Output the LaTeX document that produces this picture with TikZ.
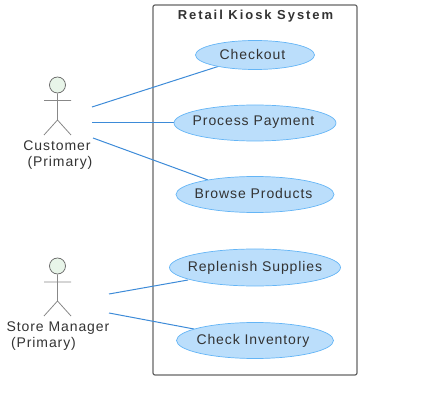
\documentclass[tikz,border=0pt]{standalone}
\usepackage{fontspec}
\setmainfont{Liberation Sans}
\newfontfamily\spacedfont[LetterSpace=6.5]{Liberation Sans}
\newfontfamily\titlefont[LetterSpace=15]{Liberation Sans}
\usetikzlibrary{shapes.geometric}
\definecolor{ink}{HTML}{333333}
\definecolor{boxline}{HTML}{666666}
\definecolor{stickline}{HTML}{888888}
\definecolor{ucfill}{HTML}{BBDEFB}
\definecolor{ucline}{HTML}{64B5F6}
\definecolor{link}{HTML}{3D8BD8}
\definecolor{headfill}{HTML}{E8F5E9}
\tikzset{x=1pt,y=-1pt,line width=.8pt,
  every node/.style={font=\spacedfont\fontsize{14}{16}\selectfont,text=ink},
  sysbox/.style={draw=boxline,line width=1.2pt,rounded corners=2pt},
  usecase/.style={ellipse,draw=ucline,fill=ucfill,inner sep=0pt,line width=.7pt},
  assoc/.style={draw=link,line width=1pt},
  stick/.style={draw=stickline,line width=.8pt},
  head/.style={circle,draw=boxline,fill=headfill,inner sep=0pt,minimum size=16pt,line width=.7pt}}
\begin{document}
\begin{tikzpicture}
\useasboundingbox (0,0) rectangle (445,401);
\draw[sysbox] (153,5) rectangle (357,375);
\node[font=\titlefont\fontsize{13}{15}\selectfont\bfseries] (title) at (255.5,16) {Retail Kiosk System};
% free ends of the associations, beside each actor
\coordinate (custA) at (92,107);\coordinate (custB) at (92,123);\coordinate (custC) at (93,138);
\coordinate (mgrA) at (109,294);\coordinate (mgrB) at (109,313);
\draw[assoc] (custA)--(218,66.5);
\draw[assoc] (custB)--(174,123);
\draw[assoc] (custC)--(208,180);
\draw[assoc] (mgrA)--(188,280);
\draw[assoc] (mgrB)--(194,329);
\node[usecase,minimum width=119pt,minimum height=29pt] (checkout) at (255,55) {};
\node at (252.5,54) {Checkout};
\node[usecase,minimum width=162pt,minimum height=36pt] (payment) at (255,123) {};
\node at (253.5,122.5) {Process Payment};
\node[usecase,minimum width=158pt,minimum height=36pt] (browse) at (255,194.5) {};
\node at (253.5,193.5) {Browse Products};
\node[usecase,minimum width=171pt,minimum height=37pt] (replenish) at (255,267.5) {};
\node at (255,267.5) {Replenish Supplies};
\node[usecase,minimum width=157pt,minimum height=36pt] (inventory) at (255,340.5) {};
\node at (253,341) {Check Inventory};
% customer
\node[head] (custhead) at (57.5,85) {};
\draw[stick] (custhead)--(57.5,120) (44,100.5)--(71,100.5) (44,135)--(57.5,120)--(71,135);
\node (custname) at (57,146) {Customer};
\node (custrole) at (60,163) {(Primary)};
% store manager
\node[head] (mgrhead) at (57.5,266) {};
\draw[stick] (mgrhead)--(57.5,301) (44,282)--(71,282) (44,316)--(57.5,301)--(71,316);
\node (mgrname) at (58,328) {Store Manager};
\node (mgrrole) at (43.5,344) {(Primary)};
\end{tikzpicture}
\end{document}
